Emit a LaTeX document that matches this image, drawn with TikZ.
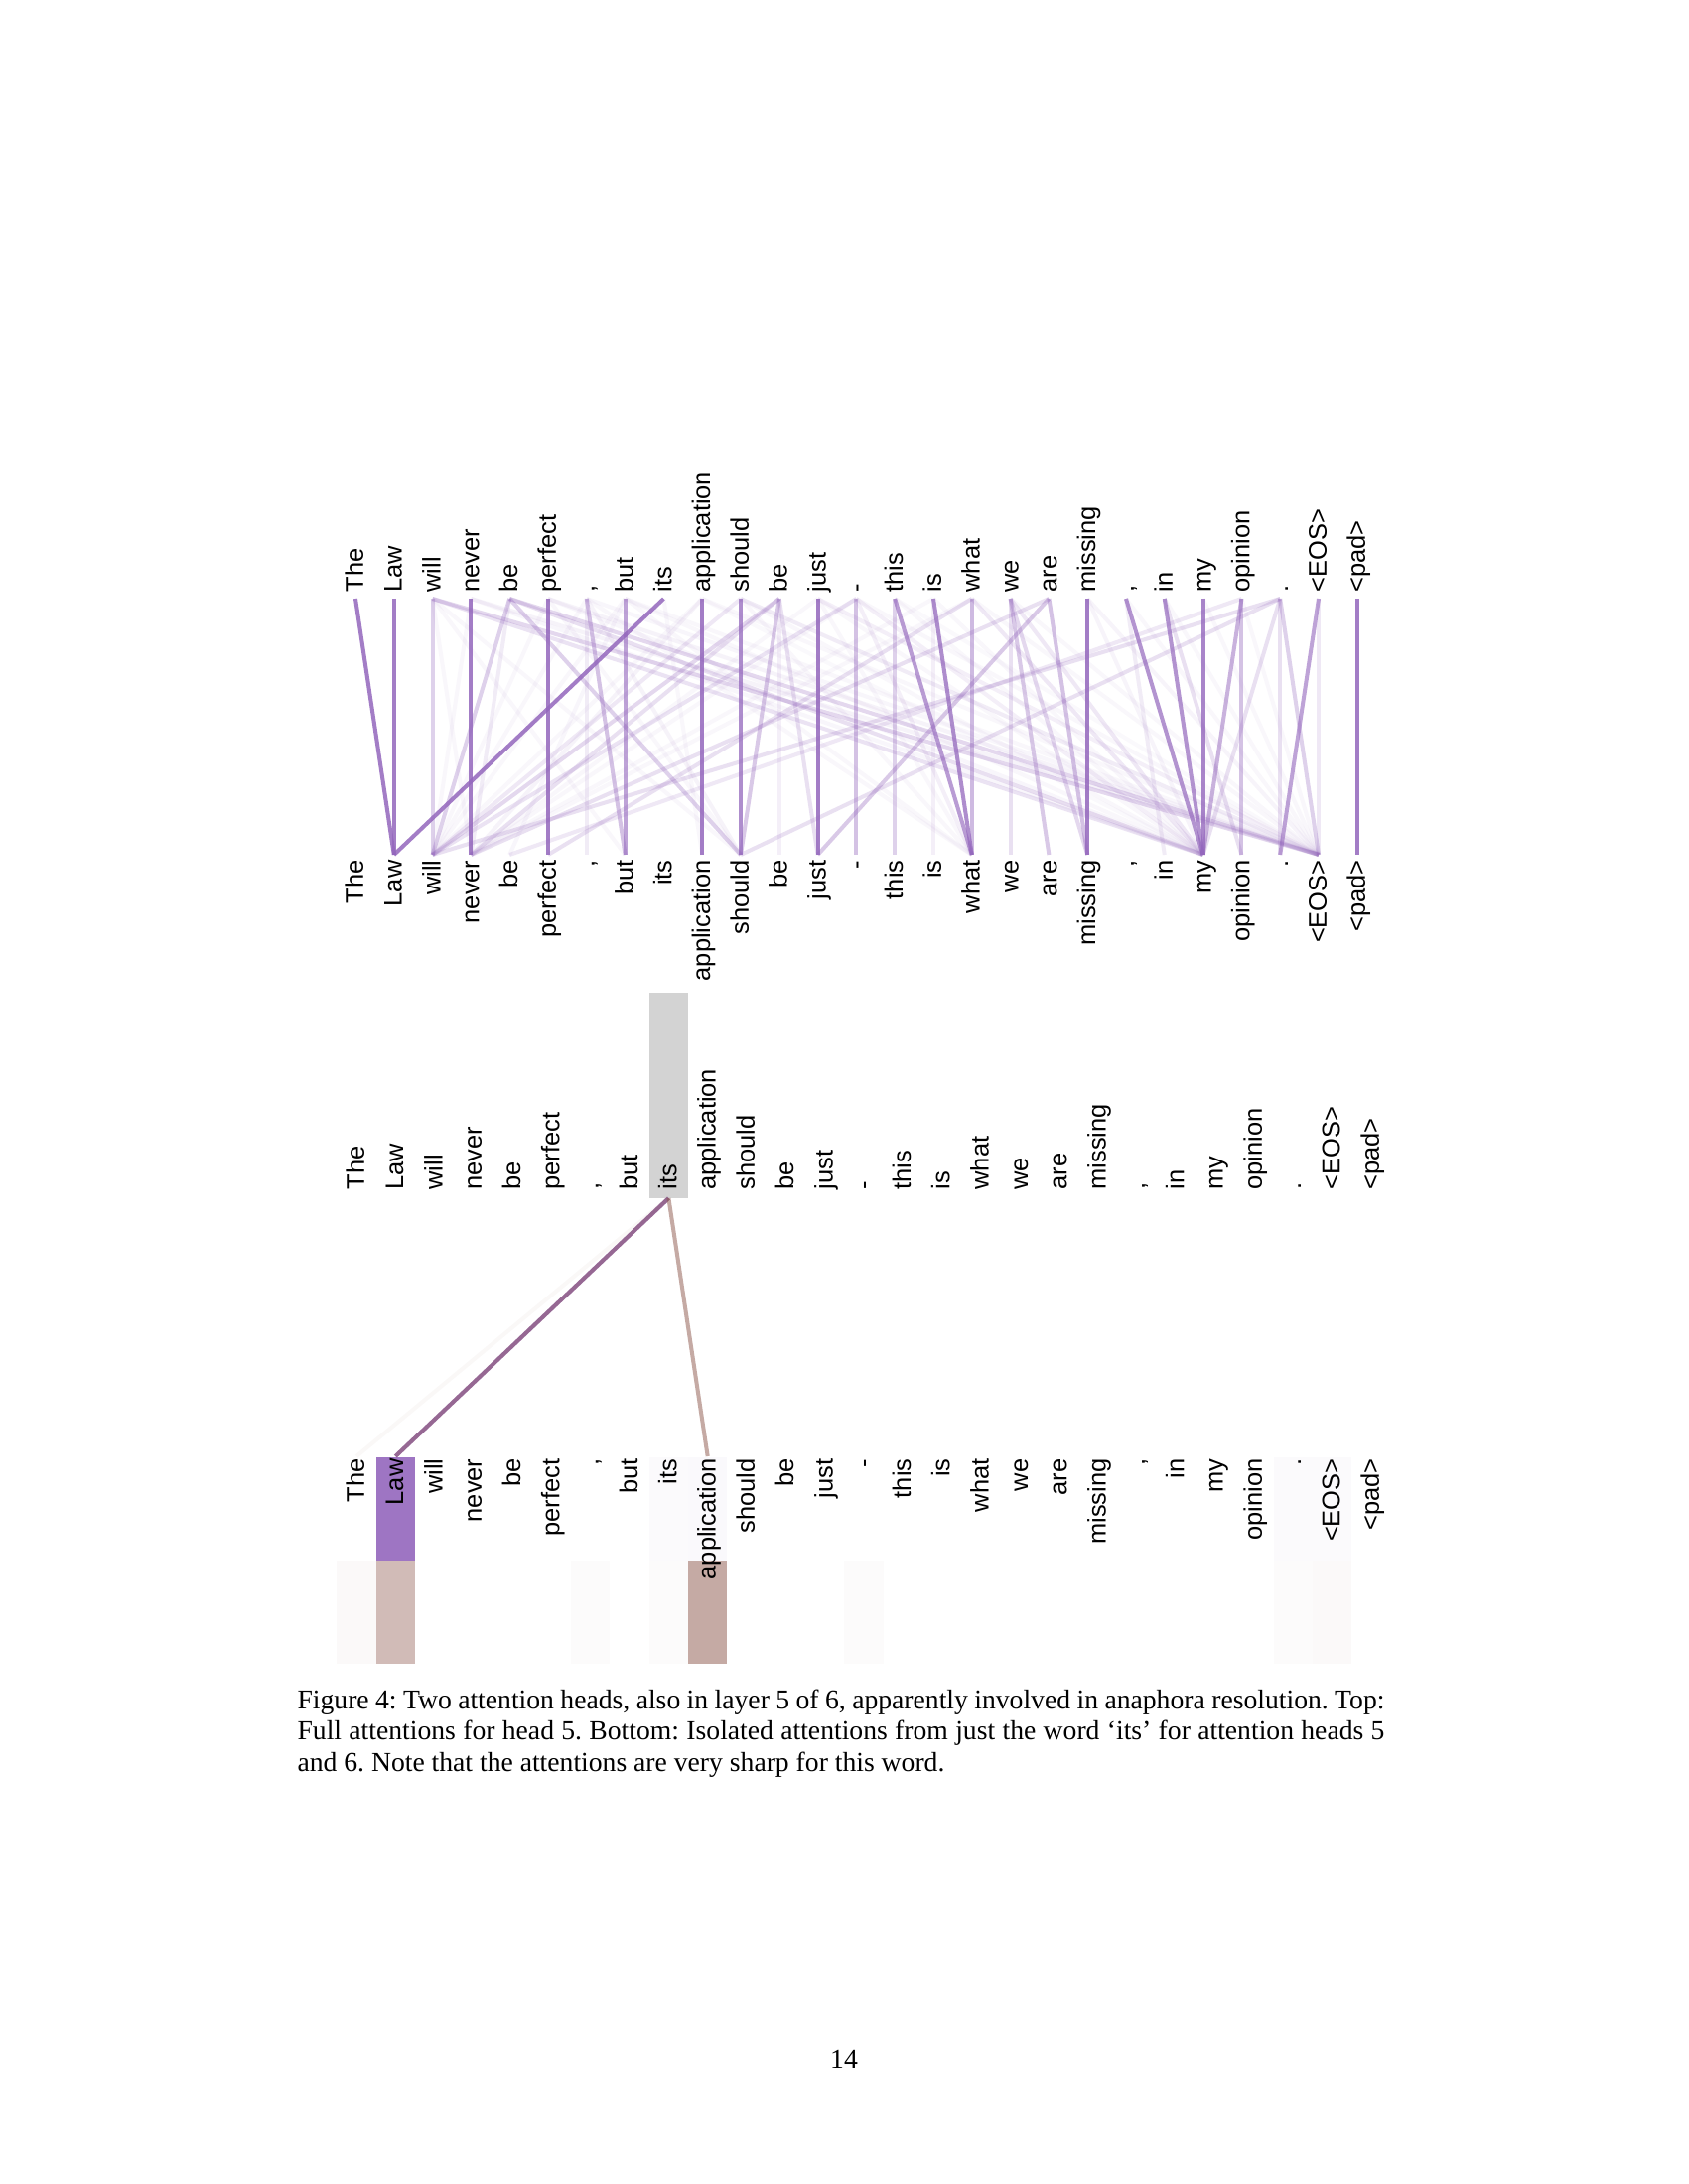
\documentclass[tikz,border=0pt]{standalone}
\usepackage{fontspec}
\setmainfont{Liberation Serif}
\newfontfamily\tokfont{Liberation Sans}
\definecolor{headfive}{HTML}{9467BD}
\definecolor{headsix}{HTML}{8C564B}
\definecolor{focusgray}{HTML}{D3D3D3}
\def\toklist{The,Law,will,never,be,perfect,{,},but,its,application,should,be,just,-,this,is,what,we,are,missing,{,},in,my,opinion,.,<EOS>,<pad>}
\begin{document}
\begin{tikzpicture}[x=0.005in,y=-0.005in,
  tok/.style={inner sep=0pt,rotate=90,font=\tokfont\fontsize{9.2}{11}\selectfont,text height=1.5ex,text depth=0.25ex},
  att/.style={headfive,line width=1.45pt},
  iso/.style={line width=1.45pt}]
  \fill[white] (0,0) rectangle (1700,2200);
  \useasboundingbox (0,0) rectangle (1700,2200);

  % top panel: full attentions, head 5
  \foreach \w [count=\k from 0] in \toklist {
    \pgfmathsetmacro{\xt}{358+38.8*\k}
    \coordinate (t\k) at (\xt,603);
    \coordinate (b\k) at (\xt,861);
    \node[tok,anchor=west] (tl\k) at (\xt,597) {\w};
    \node[tok,anchor=east] (bl\k) at (\xt,866) {\w};
  }
  \foreach \i/\j/\a in {0/1/.85,1/1/.85,2/2/.3,3/3/.85,4/2/.3,4/3/.12,4/10/.3,4/22/.2,4/25/.25,
      2/25/.25,2/22/.18,5/5/.85,6/7/.4,6/6/.12,6/10/.08,7/7/.6,7/4/.06,8/1/.85,8/9/.05,
      9/9/.85,9/3/.08,10/10/.75,10/2/.15,10/25/.12,11/10/.35,11/2/.25,11/3/.2,11/12/.2,
      11/11/.1,12/12/.85,12/25/.1,13/13/.4,13/2/.18,13/16/.1,13/22/.1,14/16/.65,14/14/.3,
      15/16/.75,15/15/.1,16/16/.45,16/5/.2,16/22/.15,17/17/.2,17/18/.35,17/19/.25,17/22/.15,
      18/12/.35,18/19/.4,18/3/.2,19/19/.85,20/22/.7,20/21/.12,21/22/.7,21/23/.2,22/22/.8,
      23/23/.4,23/22/.5,23/4/.15,24/22/.2,24/24/.2,24/25/.3,24/2/.2,24/10/.2,25/24/.6,
      25/25/.15,26/26/.85,
      2/3/.05,2/7/.05,2/10/.05,3/2/.05,5/2/.05,5/10/.05,6/2/.05,6/16/.05,7/2/.05,7/16/.05,
      7/25/.05,9/25/.05,9/22/.04,10/16/.05,10/22/.05,12/16/.05,12/22/.05,13/25/.05,14/22/.05,
      14/25/.04,15/22/.05,16/25/.05,17/25/.05,19/22/.07,19/25/.07,20/25/.05,21/25/.05,
      22/25/.05,23/25/.05,12/3/.05,13/3/.05,15/3/.05,16/3/.05,9/2/.05,5/25/.08,5/22/.06,
      3/25/.08,3/22/.06,6/25/.06,7/22/.05}
    \draw[att,draw opacity=\a] (t\i) -- (b\j);

  % middle panel: attentions from 'its', heads 5 and 6
  \fill[focusgray] (653.75,1000) rectangle (693.05,1207);
  \foreach \k/\a in {1/.9,8/.03,9/.04,24/.03,25/.03}
    \fill[headfive,fill opacity=\a] ({359+39.3*\k-19.65},1468) rectangle ++(39.3,104);
  \foreach \k/\a in {0/.03,1/.4,6/.02,8/.02,9/.5,13/.02,24/.02,25/.03}
    \fill[headsix,fill opacity=\a] ({359+39.3*\k-19.65},1572) rectangle ++(39.3,104);
  \coordinate (mq) at (673.4,1207);
  \foreach \w [count=\k from 0] in \toklist {
    \pgfmathsetmacro{\xm}{359+39.3*\k}
    \coordinate (m\k) at (\xm,1467);
    \node[tok,anchor=west] (ml\k) at (\xm,1199) {\w};
    \node[tok,anchor=east] (ll\k) at (\xm,1469) {\w};
  }
  \draw[iso,headfive,draw opacity=.9] (mq) -- (m1);
  \draw[iso,headsix,draw opacity=.4] (mq) -- (m1);
  \draw[iso,headsix,draw opacity=.5] (mq) -- (m9);
  \draw[iso,headsix,draw opacity=.04] (mq) -- (m0);

  \node[anchor=base west,inner sep=0pt,text width=396pt,align=justify,
    font=\fontsize{10}{11.5}\selectfont\frenchspacing] (caption) at (299,1721)
    {Figure 4: Two attention heads, also in layer 5 of 6, apparently involved in anaphora resolution. Top: Full attentions for head 5. Bottom: Isolated attentions from just the word ‘its’ for attention heads 5 and 6. Note that the attentions are very sharp for this word.};
  \node[anchor=base,inner sep=0pt,font=\fontsize{10}{12}\selectfont] (pagenum) at (850,2083) {14};
\end{tikzpicture}
\end{document}
